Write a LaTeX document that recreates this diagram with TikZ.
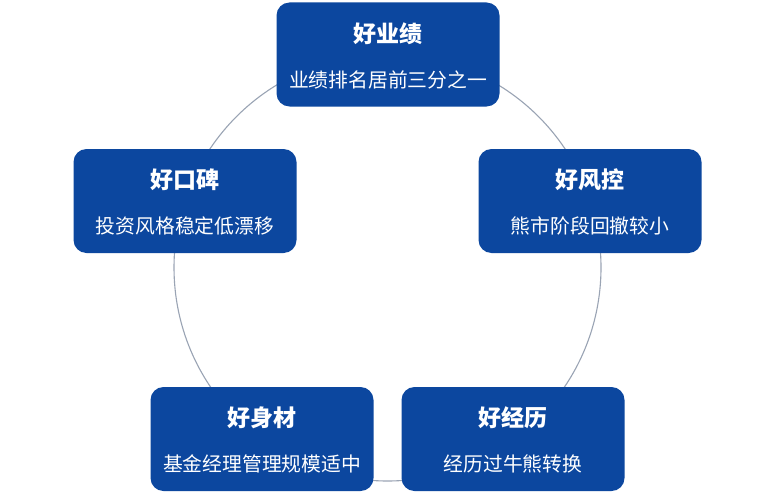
\documentclass[tikz,border=0pt]{standalone}
\usepackage{fontspec}
\newfontfamily\cjk{Noto Sans CJK SC}
\definecolor{boxblue}{HTML}{0C479F}
\definecolor{ringgray}{HTML}{9AA4B4}
\tikzset{
  card/.style={rectangle, rounded corners=13pt, fill=boxblue, draw=none,
    minimum width=223pt, minimum height=104pt, inner sep=0pt},
  cardtitle/.style={text=white, inner sep=0pt, font=\cjk\bfseries\fontsize{23}{27}\selectfont},
  cardtext/.style={text=white, inner sep=0pt, font=\cjk\fontsize{19.8}{23}\selectfont},
  ring/.style={draw=ringgray, line width=1.1pt}
}
\begin{document}
\begin{tikzpicture}[x=1pt,y=-1pt]
\useasboundingbox (0,0) rectangle (775,500);
\fill[white] (0,0) rectangle (775,500);
\coordinate (ctr) at (387.5,267.5);
\draw[ring] (ctr) circle (213.5pt);
\node[card] (top) at (388,54.5) {};
\node[card] (left) at (185,201) {};
\node[card] (right) at (590,201) {};
\node[card] (bl) at (262,439) {};
\node[card] (br) at (513,439) {};
\foreach \b/\t/\s in {top/好业绩/业绩排名居前三分之一,
                      left/好口碑/投资风格稳定低漂移,
                      right/好风控/熊市阶段回撤较小,
                      bl/好身材/基金经理管理规模适中,
                      br/好经历/经历过牛熊转换}{
  \node[cardtitle] (\b-t) at ([yshift=-31pt]\b.north) {\t};
  \node[cardtext] (\b-s) at ([yshift=-77.5pt]\b.north) {\s};
}
\end{tikzpicture}
\end{document}
